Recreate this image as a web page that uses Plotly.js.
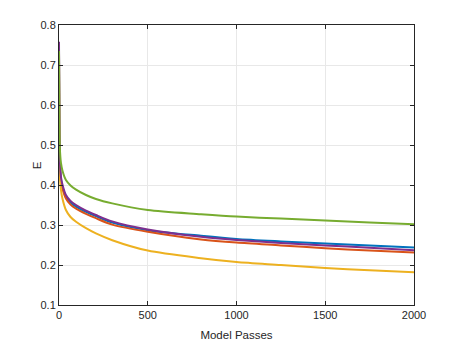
<!DOCTYPE html>
<html>
<head>
<meta charset="utf-8">
<script src="https://cdn.plot.ly/plotly-3.0.1.min.js"></script>
<style>
  html, body { margin: 0; padding: 0; background: #fff; }
  #chart { width: 457px; height: 343px; }
</style>
</head>
<body>
<div id="chart"></div>
<script>
let passes = [0, 2, 5, 11, 20, 39, 65, 96, 152, 208, 300, 500, 800, 1000, 1250, 1500, 1750, 2000];

let eBlue   = [0.745, 0.525, 0.455, 0.415, 0.395, 0.371, 0.356, 0.346, 0.333, 0.322, 0.306, 0.287, 0.273, 0.265, 0.259, 0.254, 0.249, 0.244];
let eRed    = [0.74, 0.52, 0.45, 0.41, 0.39, 0.366, 0.351, 0.341, 0.328, 0.317, 0.301, 0.283, 0.264, 0.256, 0.249, 0.242, 0.236, 0.231];
let eYellow = [0.72, 0.49, 0.42, 0.388, 0.365, 0.3375, 0.32, 0.308, 0.292, 0.279, 0.262, 0.236, 0.217, 0.2075, 0.2, 0.1925, 0.187, 0.182];
let ePurple = [0.758, 0.53, 0.46, 0.42, 0.40, 0.375, 0.36, 0.35, 0.336, 0.325, 0.309, 0.289, 0.2705, 0.2625, 0.255, 0.249, 0.243, 0.237];
let eGreen  = [0.735, 0.56, 0.49, 0.455, 0.435, 0.4125, 0.399, 0.3885, 0.375, 0.365, 0.354, 0.3375, 0.327, 0.321, 0.316, 0.311, 0.306, 0.302];

let series = [
  {y: eBlue, color: '#0072BD'},
  {y: eRed, color: '#D95319'},
  {y: eYellow, color: '#EDB120'},
  {y: ePurple, color: '#7E2F8E'},
  {y: eGreen, color: '#77AC30'}
];

let data = series.map(s => ({
  x: passes,
  y: s.y,
  type: 'scatter',
  mode: 'lines',
  line: {color: s.color, width: 2, shape: 'spline', smoothing: 0.8},
  hoverinfo: 'skip'
}));

let font = 'Liberation Sans, Arial, sans-serif';

let axisStyle = {
  showline: true,
  linecolor: '#262626',
  linewidth: 1,
  mirror: 'ticks',
  ticks: 'inside',
  ticklen: 4,
  tickcolor: '#262626',
  showgrid: true,
  gridcolor: '#e8e8e8',
  gridwidth: 1,
  zeroline: false,
  tickfont: {family: font, size: 11, color: '#262626'}
};

let layout = {
  width: 457,
  height: 343,
  margin: {l: 59, r: 43, t: 25, b: 38},
  paper_bgcolor: '#ffffff',
  plot_bgcolor: '#ffffff',
  showlegend: false,
  xaxis: Object.assign({}, axisStyle, {
    range: [0, 2000],
    tickvals: [0, 500, 1000, 1500, 2000],
    title: {text: 'Model Passes', standoff: 10, font: {family: font, size: 11.5, color: '#262626'}}
  }),
  yaxis: Object.assign({}, axisStyle, {
    range: [0.1, 0.8],
    tickvals: [0.1, 0.2, 0.3, 0.4, 0.5, 0.6, 0.7, 0.8],
    ticktext: ['0.1', '0.2', '0.3', '0.4', '0.5', '0.6', '0.7', '0.8']
  }),
  annotations: [{
    text: 'E',
    xref: 'paper', yref: 'paper',
    x: -0.061, y: 0.5,
    xanchor: 'center', yanchor: 'middle',
    textangle: -90,
    showarrow: false,
    font: {family: font, size: 11.5, color: '#262626'}
  }]
};

Plotly.newPlot('chart', data, layout, {staticPlot: true, displayModeBar: false});
</script>
</body>
</html>
